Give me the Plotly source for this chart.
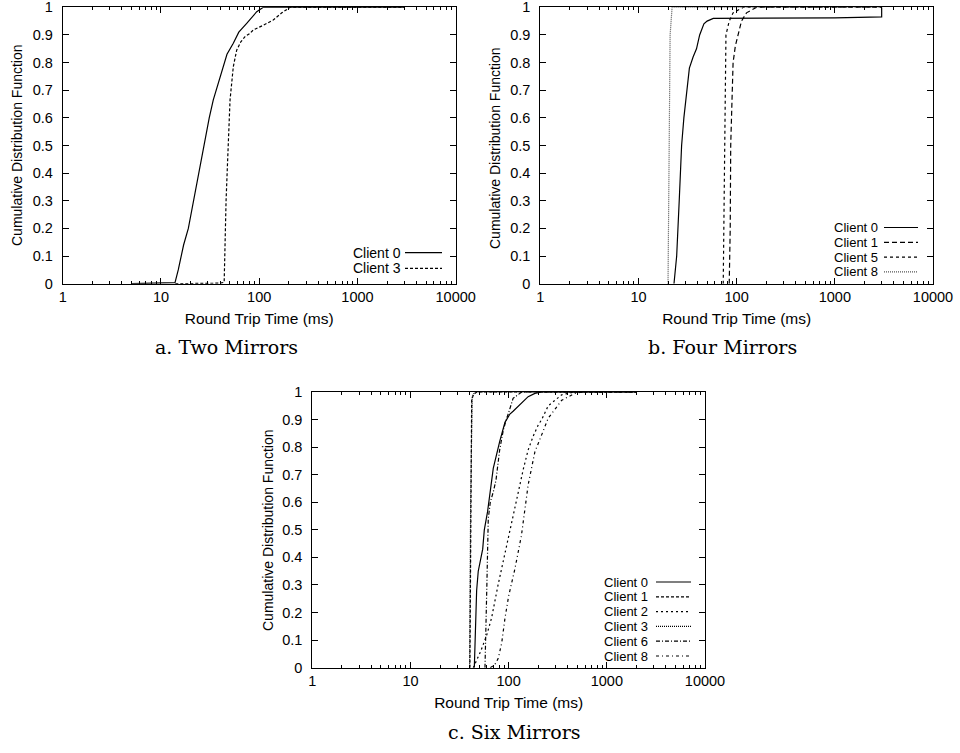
import plotly.graph_objects as go

W, H = 960, 753

# ---------------- data ----------------
tick_vals_x = [1, 10, 100, 1000, 10000]
tick_text_x = ["1", "10", "100", "1000", "10000"]
tick_vals_y = [0, 0.1, 0.2, 0.3, 0.4, 0.5, 0.6, 0.7, 0.8, 0.9, 1]
tick_text_y = ["0", "0.1", "0.2", "0.3", "0.4", "0.5", "0.6", "0.7", "0.8", "0.9", "1"]
minor_x = [2, 3, 4, 5, 6, 7, 8, 9, 20, 30, 40, 50, 60, 70, 80, 90,
           200, 300, 400, 500, 600, 700, 800, 900, 2000, 3000, 4000, 5000, 6000, 7000, 8000, 9000]

captions = ["a. Two Mirrors", "b. Four Mirrors", "c. Six Mirrors"]
x_title = "Round Trip Time (ms)"
y_title = "Cumulative Distribution Function"

# Panel a : Two Mirrors
a_names = ["Client 0", "Client 3"]
a_c0_x = [5, 10, 13.9, 15, 16, 17, 19, 21.4, 24.4, 27.2, 31, 34.1, 38, 41.5, 47, 54.5, 62, 74.6, 85, 94.4, 110, 3000]
a_c0_y = [0, 0.002, 0.004, 0.05, 0.1, 0.14, 0.2, 0.3, 0.4, 0.5, 0.6, 0.665, 0.72, 0.773, 0.83, 0.87, 0.91, 0.942, 0.965, 0.984, 1.0, 1.0]
a_c3_x = [14, 40, 44, 44.9, 46, 47.4, 50.5, 54.5, 59, 65, 71.8, 80, 87, 110, 139, 170, 206, 3000]
a_c3_y = [0, 0.002, 0.005, 0.18, 0.3, 0.42, 0.665, 0.785, 0.845, 0.875, 0.894, 0.905, 0.918, 0.935, 0.954, 0.98, 1.0, 1.0]

# Panel b : Four Mirrors
b_names = ["Client 0", "Client 1", "Client 5", "Client 8"]
b_c0_x = [23, 24.5, 26, 27.5, 29, 31, 33, 36, 39, 42, 46.4, 50, 53.5, 57.8, 1000, 3000, 3000]
b_c0_y = [0, 0.1, 0.3, 0.5, 0.6, 0.7, 0.78, 0.82, 0.85, 0.9, 0.94, 0.95, 0.955, 0.96, 0.962, 0.965, 1.0]
b_c1_x = [84, 86, 87, 90, 92, 97, 104, 112, 126, 160, 3000]
b_c1_y = [0, 0.2, 0.5, 0.7, 0.8, 0.86, 0.9, 0.95, 0.98, 1.0, 1.0]
b_c5_x = [73, 75, 77.8, 84, 92, 117, 3000]
b_c5_y = [0, 0.5, 0.9, 0.95, 0.98, 1.0, 1.0]
b_c8_x = [20, 20.5, 21, 22, 3000]
b_c8_y = [0, 0.5, 0.9, 1.0, 1.0]

# Panel c : Six Mirrors
c_names = ["Client 0", "Client 1", "Client 2", "Client 3", "Client 6", "Client 8"]
c_c0_x = [44.7, 46, 47.2, 49, 54.4, 56.5, 61, 69.7, 78.4, 81, 91.7, 103, 111, 130, 158, 185, 217, 2000]
c_c0_y = [0, 0.15, 0.28, 0.35, 0.43, 0.5, 0.566, 0.723, 0.8, 0.82, 0.89, 0.92, 0.93, 0.953, 0.983, 0.995, 1.0, 1.0]
c_c1_x = [40.3, 41.3, 42, 43.6, 47.2, 2000]
c_c1_y = [0, 0.5, 0.97, 0.989, 1.0, 1.0]
c_c2_x = [43.6, 52, 60, 67, 78, 92, 107, 125, 141, 158, 178, 200, 217, 253, 300, 347, 473, 2000]
c_c2_y = [0, 0.06, 0.12, 0.18, 0.3, 0.42, 0.52, 0.64, 0.72, 0.79, 0.84, 0.88, 0.9, 0.95, 0.97, 0.99, 1.0, 1.0]
c_c3_x = [40, 41, 42.5, 45, 2000]
c_c3_y = [0, 0.6, 0.98, 1.0, 1.0]
c_c6_x = [57.4, 58.5, 60, 62, 65, 70, 74.3, 81, 88, 95.5, 99, 111, 136, 2000]
c_c6_y = [0, 0.1, 0.3, 0.54, 0.6, 0.64, 0.68, 0.79, 0.86, 0.905, 0.92, 0.977, 1.0, 1.0]
c_c8_x = [65, 72, 78.4, 85, 91.7, 100, 116, 135, 158, 185, 220, 253, 300, 347, 473, 554, 2000]
c_c8_y = [0, 0.01, 0.034, 0.09, 0.179, 0.26, 0.36, 0.48, 0.663, 0.783, 0.85, 0.905, 0.94, 0.97, 0.995, 1.0, 1.0]

# ---------------- styles ----------------
DASH = {
    "solid": "solid",
    "dash_a": "3px,2px",
    "dash_b1": "5px,3px",
    "dash_b5": "3px,3px",
    "dot": "1px,1px",
    "dash_c1": "3px,2px",
    "dash_c2": "2px,3px",
    "dashdot6": "4px,2px,1px,2px",
    "dashdot8": "3px,3px,1px,3px",
}

panels = [
    dict(ax="", names=a_names,
         series=[(a_c0_x, a_c0_y, "solid", "black"), (a_c3_x, a_c3_y, "dash_a", "black")],
         plot=(62.7, 455.7, 7.3, 283.7), leg_right=403, leg_line=(405, 442), leg_y0=252.7, leg_dy=15.6,
         leg_font=14, cap_x=226, cap_y=347, ytitle=(17, 145)),
    dict(ax="2", names=b_names,
         series=[(b_c0_x, b_c0_y, "solid", "black"), (b_c1_x, b_c1_y, "dash_b1", "black"),
                 (b_c5_x, b_c5_y, "dash_b5", "black"), (b_c8_x, b_c8_y, "dot", "#555555")],
         plot=(540.3, 933.0, 7.3, 283.7), leg_right=880, leg_line=(884, 918), leg_y0=227.5, leg_dy=14.8,
         leg_font=13, cap_x=722, cap_y=347, ytitle=(495, 148)),
    dict(ax="3", names=c_names,
         series=[(c_c0_x, c_c0_y, "solid", "black"), (c_c1_x, c_c1_y, "dash_c1", "black"),
                 (c_c2_x, c_c2_y, "dash_c2", "black"), (c_c3_x, c_c3_y, "dot", "black"),
                 (c_c6_x, c_c6_y, "dashdot6", "black"), (c_c8_x, c_c8_y, "dashdot8", "black")],
         plot=(312.3, 705.0, 392.0, 667.7), leg_right=650, leg_line=(656, 691), leg_y0=582.0, leg_dy=14.8,
         leg_font=13, cap_x=514, cap_y=732, ytitle=(268, 530)),
]

FONT = "Liberation Sans, Arial, Helvetica, sans-serif"
SERIF = "DejaVu Serif, Liberation Serif, serif"

fig = go.Figure()
annotations = []
shapes = []

for i, p in enumerate(panels):
    ax = p["ax"]
    x0, x1, y0, y1 = p["plot"]
    for (xs, ys, dk, col), nm in zip(p["series"], p["names"]):
        fig.add_trace(go.Scatter(
            x=xs, y=ys, mode="lines", name=nm, showlegend=False,
            line=dict(color=col, width=1.2, dash=DASH[dk]),
            xaxis="x" + ax, yaxis="y" + ax, hoverinfo="skip",
        ))
    # hand-drawn legend (text right, sample line on the right as in the original)
    for k, ((xs, ys, dk, col), nm) in enumerate(zip(p["series"], p["names"])):
        ly = p["leg_y0"] + k * p["leg_dy"]
        annotations.append(dict(
            x=p["leg_right"] / W, y=1 - ly / H, xref="paper", yref="paper",
            text=nm, showarrow=False, xanchor="right", yanchor="middle",
            font=dict(family=FONT, size=p["leg_font"], color="black"),
        ))
        shapes.append(dict(
            type="line", xref="paper", yref="paper",
            x0=p["leg_line"][0] / W, x1=p["leg_line"][1] / W,
            y0=1 - ly / H, y1=1 - ly / H,
            line=dict(color=col, width=1.2, dash=DASH[dk]),
        ))
    # caption
    annotations.append(dict(
        x=p["cap_x"] / W, y=1 - p["cap_y"] / H, xref="paper", yref="paper",
        text=captions[i], showarrow=False, xanchor="center", yanchor="middle",
        font=dict(family=SERIF, size=19, color="black"),
    ))
    # y-axis title
    annotations.append(dict(
        x=p["ytitle"][0] / W, y=1 - p["ytitle"][1] / H, xref="paper", yref="paper",
        text=y_title, showarrow=False, xanchor="center", yanchor="middle", textangle=-90,
        font=dict(family=FONT, size=14, color="black"),
    ))

    xa = dict(
        type="log", range=[0, 4], domain=[x0 / W, x1 / W], anchor="y" + ax,
        tickmode="array", tickvals=tick_vals_x, ticktext=tick_text_x,
        ticks="inside", ticklen=6, tickwidth=1, tickcolor="black",
        showline=True, linecolor="black", linewidth=1, mirror="ticks",
        showgrid=False, zeroline=False,
        minor=dict(tickmode="array", tickvals=minor_x, ticks="inside", ticklen=3,
                   tickcolor="black", tickwidth=1, showgrid=False),
        tickfont=dict(family=FONT, size=14.5, color="black"),
        title=dict(text=x_title, font=dict(family=FONT, size=15.5, color="black"), standoff=9),
        automargin=False, ticklabelstandoff=0, ticklabeloverflow="allow",
    )
    ya = dict(
        range=[0, 1], domain=[1 - y1 / H, 1 - y0 / H], anchor="x" + ax,
        tickmode="array", tickvals=tick_vals_y, ticktext=tick_text_y,
        ticks="inside", ticklen=6, tickwidth=1, tickcolor="black",
        showline=True, linecolor="black", linewidth=1, mirror="ticks",
        showgrid=False, zeroline=False,
        tickfont=dict(family=FONT, size=14.5, color="black"),
        automargin=False, ticklabelstandoff=6, ticklabeloverflow="allow",
    )
    fig.layout["xaxis" + ax] = xa
    fig.layout["yaxis" + ax] = ya

fig.update_layout(
    width=W, height=H,
    margin=dict(l=0, r=0, t=0, b=0),
    paper_bgcolor="white", plot_bgcolor="white",
    showlegend=False,
    annotations=annotations, shapes=shapes,
    font=dict(family=FONT, size=14, color="black"),
)

# remove the browser's default 8px page margin so the figure sits at the window origin
fig.write_html("out.html", config={"displayModeBar": False},
               post_script="document.body.style.margin='0px';")
